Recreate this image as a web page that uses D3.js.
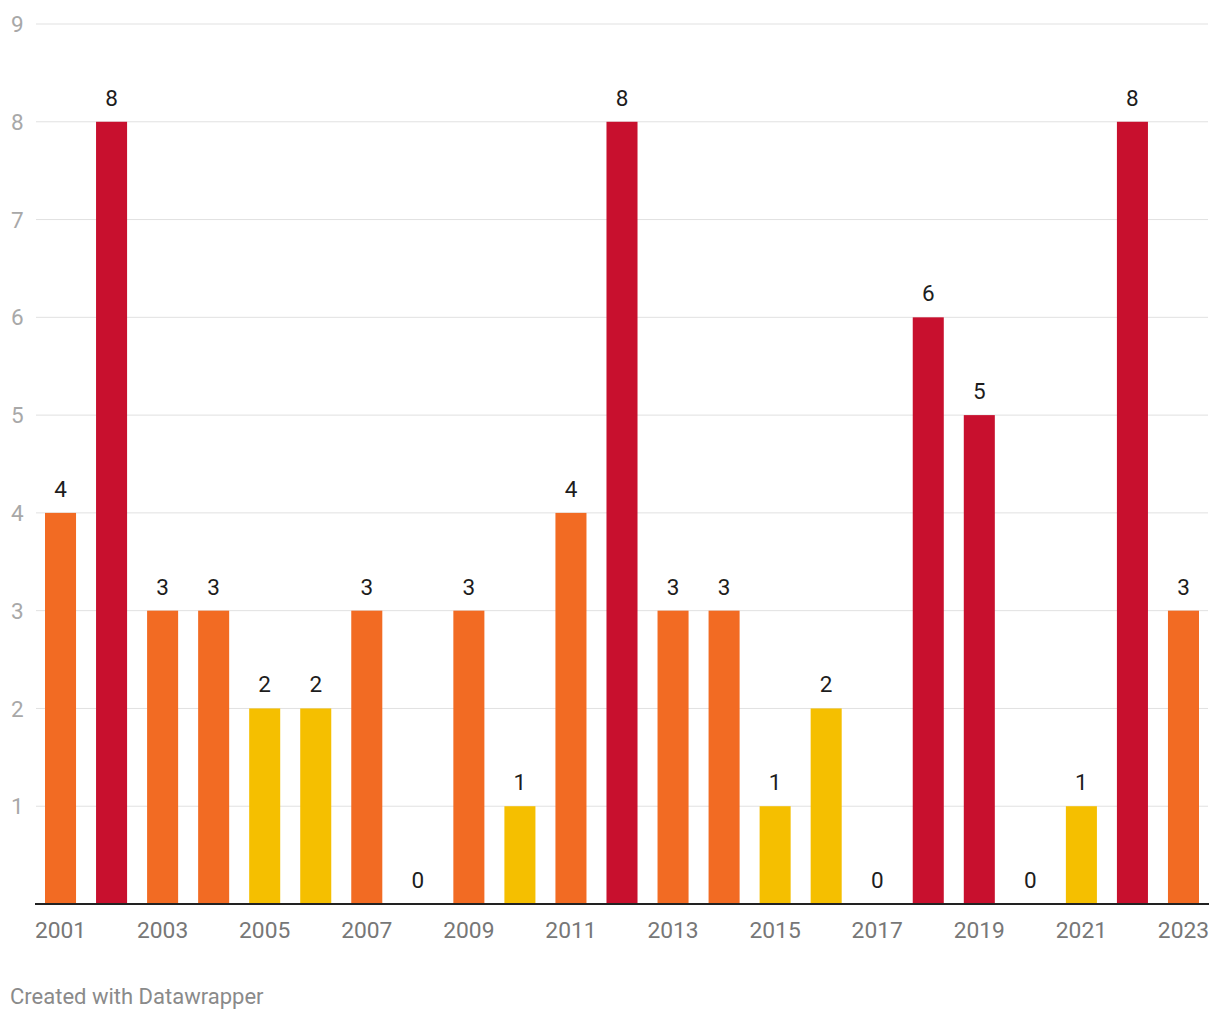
<!DOCTYPE html>
<html><head><meta charset="utf-8">
<script src="https://cdn.jsdelivr.net/npm/d3@7"></script>
<style>
html,body{margin:0;padding:0;background:#fff;}
svg{display:block;font-family:Roboto, sans-serif;}
</style></head>
<body>
<svg id="chart" width="1220" height="1020"></svg>
<script>
const years = ["2001","2002","2003","2004","2005","2006","2007","2008","2009","2010","2011","2012","2013","2014","2015","2016","2017","2018","2019","2020","2021","2022","2023"];
const values = [4,8,3,3,2,2,3,0,3,1,4,8,3,3,1,2,0,6,5,0,1,8,3];
const yTicks = [1,2,3,4,5,6,7,8,9];
const xTickLabels = ["2001","2003","2005","2007","2009","2011","2013","2015","2017","2019","2021","2023"];
const footer = "Created with Datawrapper";

function colorFor(v){
  if (v >= 5) return "#c8102e";
  if (v >= 3) return "#f26b23";
  return "#f5bf00";
}

const svg = d3.select("#chart");
const mLeft = 35, mRight = 1209, mTop = 24, mBottom = 904;

const x = d3.scaleBand().domain(years).range([mLeft, mRight]).paddingInner(0.392).paddingOuter(0.196);
const y = d3.scaleLinear().domain([0, 9]).range([mBottom, mTop]);

// gridlines
svg.append("g").selectAll("line").data(yTicks).join("line")
  .attr("x1", 36).attr("x2", 1208)
  .attr("y1", d => y(d)).attr("y2", d => y(d))
  .attr("stroke", "#e1e1e1").attr("stroke-width", 1);

// y tick labels
svg.append("g").selectAll("text").data(yTicks).join("text")
  .attr("x", 11).attr("y", d => y(d)).attr("dy", "0.36em")
  .attr("fill", "#a8a8a8").attr("font-size", 22.5)
  .text(d => d);

// bars
svg.append("g").selectAll("rect").data(years).join("rect")
  .attr("x", d => x(d)).attr("width", x.bandwidth())
  .attr("y", (d,i) => y(values[i])).attr("height", (d,i) => mBottom - y(values[i]))
  .attr("fill", (d,i) => colorFor(values[i]));

// value labels
svg.append("g").selectAll("text").data(years).join("text")
  .attr("x", d => x(d) + x.bandwidth()/2)
  .attr("y", (d,i) => y(values[i]) - 16)
  .attr("text-anchor", "middle").attr("fill", "#1d1d1d").attr("font-size", 22.5)
  .text((d,i) => values[i]);

// baseline
svg.append("line").attr("x1", 35).attr("x2", 1209).attr("y1", mBottom).attr("y2", mBottom)
  .attr("stroke", "#222").attr("stroke-width", 2);

// x labels
svg.append("g").selectAll("text").data(xTickLabels).join("text")
  .attr("x", d => x(d) + x.bandwidth()/2).attr("y", 938)
  .attr("text-anchor", "middle").attr("fill", "#777").attr("font-size", 22.8)
  .text(d => d);

svg.append("text").attr("x", 10).attr("y", 1004)
  .attr("fill", "#8a8a8a").attr("font-size", 22).text(footer);
</script>
</body></html>
